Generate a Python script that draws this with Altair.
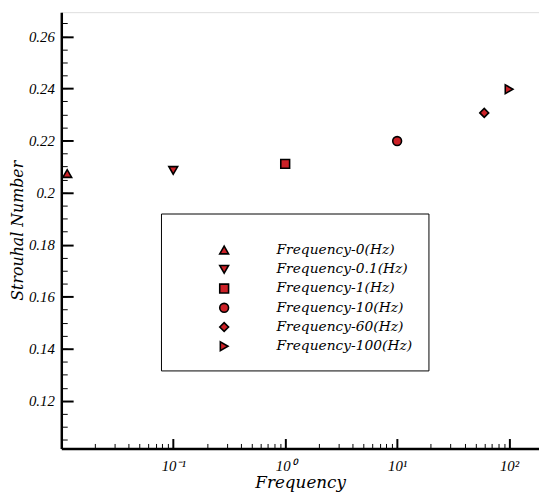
import altair as alt
import pandas as pd

# Data
labels = ["Frequency-0(Hz)", "Frequency-0.1(Hz)", "Frequency-1(Hz)",
          "Frequency-10(Hz)", "Frequency-60(Hz)", "Frequency-100(Hz)"]
# frequency 0 is drawn at the left edge of the log axis
freq = [0.0113, 0.1, 1, 10, 60, 100]
strouhal = [0.2073, 0.2085, 0.2110, 0.2198, 0.2306, 0.2397]
shapes = ["triangle-up", "triangle-down", "square", "circle", "diamond", "triangle-right"]

x_major = [0.1, 1, 10, 100]
x_minor = [m * 10.0 ** e for e in (-2, -1, 0, 1) for m in range(2, 10) if m * 10.0 ** e < 185]
y_major = [0.12, 0.14, 0.16, 0.18, 0.20, 0.22, 0.24, 0.26]
y_minor = [round(0.105 + 0.005 * i, 3) for i in range(34)]

df = pd.DataFrame({"freq": freq, "St": strouhal, "label": labels})

FONT = "Liberation Serif"
TFONT = "DejaVu Serif"
RED = "#cc2127"

xscale = alt.Scale(type="log", domain=[0.01, 185], nice=False)
yscale = alt.Scale(domain=[0.1017, 0.2693], nice=False, zero=False)

label_expr = ("datum.value == 0.1 ? '10⁻¹' : datum.value == 1 ? '10⁰' : "
              "datum.value == 10 ? '10¹' : '10²'")

legend = alt.Legend(
    title=" ", orient="none", legendX=101, legendY=204,
    fillColor="white", strokeColor="black", padding=16,
    titleFontSize=8, titlePadding=6,
    labelFont=TFONT, labelFontStyle="italic", labelFontSize=14,
    labelColor="black", labelOffset=46, symbolOffset=41,
    symbolSize=80, symbolStrokeWidth=1.6, rowPadding=3.5, labelLimit=300)

main = alt.Chart(df).mark_point(
    filled=True, strokeWidth=1.6, size=80, opacity=1
).encode(
    x=alt.X("freq:Q", scale=xscale, axis=alt.Axis(
        values=x_major, labelExpr=label_expr, title="Frequency", orient="bottom",
        tickSize=0, labelPadding=10, domainWidth=2.5, domainColor="black",
        labelFont=FONT, labelFontStyle="italic", labelFontSize=15, labelColor="black",
        titleFont=TFONT, titleFontStyle="italic", titleFontSize=17, titleFontWeight="normal",
        titleColor="black", titlePadding=2, grid=False)),
    y=alt.Y("St:Q", scale=yscale, axis=alt.Axis(
        values=y_major, format="~g", title="Strouhal Number", orient="left",
        tickSize=0, labelPadding=7, domainWidth=2.5, domainColor="black",
        labelFont=FONT, labelFontStyle="italic", labelFontSize=15, labelColor="black",
        titleFont=TFONT, titleFontStyle="italic", titleFontSize=16, titleFontWeight="normal",
        titleColor="black", titleBaseline="middle", titleX=-44, grid=False)),
    shape=alt.Shape("label:N", scale=alt.Scale(domain=labels, range=shapes),
                    sort=labels, legend=legend),
    fill=alt.Fill("label:N", scale=alt.Scale(domain=labels, range=[RED] * 6),
                  sort=labels, legend=legend),
    stroke=alt.Stroke("label:N", scale=alt.Scale(domain=labels, range=["black"] * 6),
                      sort=labels, legend=legend),
)

major_ticks = alt.Chart(df).mark_point(opacity=0).encode(
    x=alt.X("freq:Q", scale=xscale, axis=alt.Axis(
        values=x_major, orient="bottom", labels=False, domain=False, title=None,
        tickSize=10, offset=-10, tickWidth=2, tickColor="black", grid=False)),
    y=alt.Y("St:Q", scale=yscale, axis=alt.Axis(
        values=y_major, orient="left", labels=False, domain=False, title=None,
        tickSize=12, offset=-12, tickWidth=2, tickColor="black", grid=False)),
)

minor_ticks = alt.Chart(df).mark_point(opacity=0).encode(
    x=alt.X("freq:Q", scale=xscale, axis=alt.Axis(
        values=x_minor, orient="bottom", labels=False, domain=False, title=None,
        tickSize=5, offset=-5, tickWidth=1, tickColor="black", grid=False)),
    y=alt.Y("St:Q", scale=yscale, axis=alt.Axis(
        values=y_minor, orient="left", labels=False, domain=False, title=None,
        tickSize=6, offset=-6, tickWidth=1, tickColor="black", grid=False)),
)

chart = alt.layer(minor_ticks, major_ticks, main).resolve_axis(
    x="independent", y="independent"
).properties(
    width=484, height=442,
    autosize=alt.AutoSizeParams(type="none"),
    padding={"left": 54, "top": 1, "right": 0, "bottom": 45},
).configure_view(stroke="black", strokeWidth=1.2).configure(background="white")

chart.save("out.html", embed_options={"renderer": "svg", "actions": False})
